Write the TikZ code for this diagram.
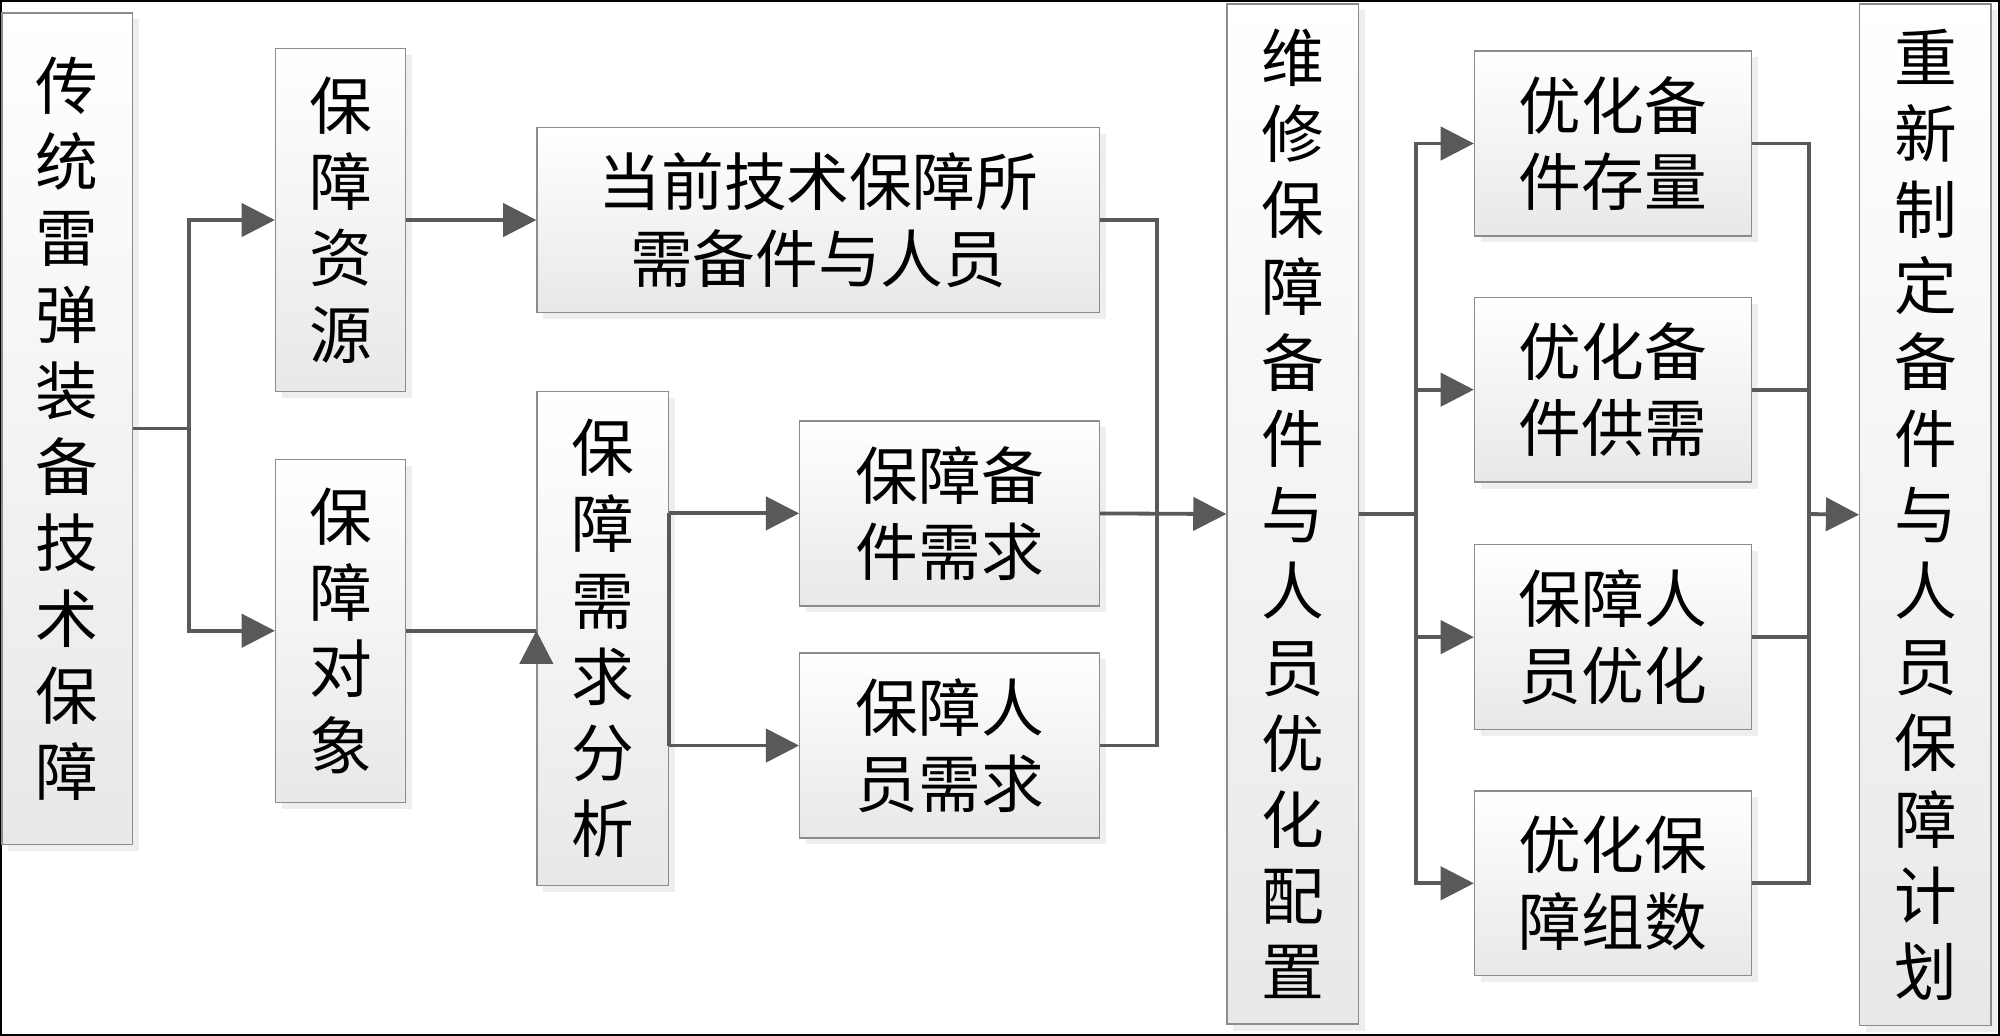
\documentclass[tikz,border=0pt]{standalone}
\usepackage{fontspec}
\newfontfamily\cjk{Noto Sans CJK SC}
\usetikzlibrary{arrows.meta,shadows}
\definecolor{linegray}{HTML}{595959}
\definecolor{boxgray}{HTML}{8C8C8C}
\tikzset{
  blk/.style={draw=boxgray,line width=0.6pt,top color=white,bottom color=black!9,
    drop shadow={shadow xshift=0.1cm,shadow yshift=-0.1cm,fill=black!13},
    inner sep=0pt,align=center,font=\cjk\fontsize{28}{34}\selectfont},
  line/.style={draw=linegray,line width=1.7pt},
  arr/.style={line,-{Triangle[length=0.52cm,width=0.52cm]}}
}
\begin{document}
\begin{tikzpicture}[x=0.02cm,y=-0.02cm]
\useasboundingbox (0,0) rectangle (1568,812);
\draw[line width=1.5pt] (0,0) rectangle (1568,812);
% boxes
\node[blk,minimum width=2.05cm,minimum height=13.04cm] (A) at (52.75,336) {传\\统\\雷\\弹\\装\\备\\技\\术\\保\\障};
\node[blk,minimum width=2.04cm,minimum height=5.38cm] (B) at (267,172.5) {保\\障\\资\\源};
\node[blk,minimum width=2.04cm,minimum height=5.38cm] (C) at (267,494.5) {保\\障\\对\\象};
\node[blk,minimum width=8.82cm,minimum height=2.9cm] (D) at (641.5,172.5) {当前技术保障所\\需备件与人员};
\node[blk,minimum width=2.06cm,minimum height=7.74cm] (E) at (472.5,500.5) {保\\障\\需\\求\\分\\析};
\node[blk,minimum width=4.7cm,minimum height=2.9cm] (F) at (744.5,402.5) {保障备\\件需求};
\node[blk,minimum width=4.7cm,minimum height=2.9cm] (G) at (744.5,584.5) {保障人\\员需求};
\node[blk,minimum width=2.06cm,minimum height=16cm] (H) at (1013.5,403) {维\\修\\保\\障\\备\\件\\与\\人\\员\\优\\化\\配\\置};
\node[blk,minimum width=4.34cm,minimum height=2.9cm] (I) at (1264.5,112.5) {优化备\\件存量};
\node[blk,minimum width=4.34cm,minimum height=2.9cm] (J) at (1264.5,305.5) {优化备\\件供需};
\node[blk,minimum width=4.34cm,minimum height=2.9cm] (K) at (1264.5,499.5) {保障人\\员优化};
\node[blk,minimum width=4.34cm,minimum height=2.9cm] (L) at (1264.5,692.5) {优化保\\障组数};
\node[blk,minimum width=2.06cm,minimum height=16.02cm] (M) at (1509.5,403.5) {重\\新\\制\\定\\备\\件\\与\\人\\员\\保\\障\\计\\划};
% junctions
\coordinate (j0) at (148,336);
\coordinate (j1) at (907,403);
\coordinate (j2) at (1110,403);
\coordinate (j3) at (1418,403);
% connectors
\draw[line] (A.east) -- (j0);
\draw[arr] (j0) |- (B.west);
\draw[arr] (j0) |- (C.west);
\draw[arr] (B.east) -- (D.west);
\draw[line] (C.east) -- (E.west |- C.east);
\draw[arr] ([yshift=-2pt]E.west |- C.east) -- (E.west |- C.east);
\draw[line] (E.east |- F.west) -- (E.east |- G.west);
\draw[arr] (E.east |- F.west) -- (F.west);
\draw[arr] (E.east |- G.west) -- (G.west);
\draw[line] (D.east) -| (j1) |- (G.east);
\draw[arr] (F.east) -- (H.west);
\draw[line] (H.east) -- (j2);
\foreach \n in {I,J,K,L} {
  \draw[arr] (j2) |- (\n.west);
  \draw[line] (\n.east) -| (j3);
}
\draw[arr] (j3) -- (M.west);
\end{tikzpicture}
\end{document}
